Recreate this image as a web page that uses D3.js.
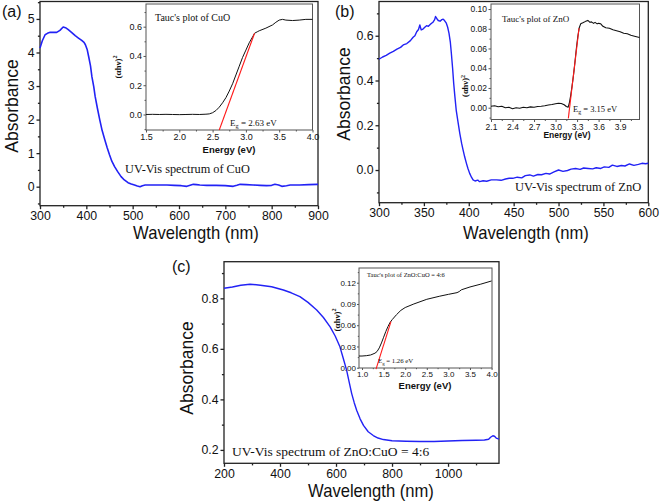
<!DOCTYPE html>
<html><head><meta charset="utf-8">
<script src="https://cdn.jsdelivr.net/npm/d3@7"></script>
<style>body{margin:0;background:#fff}svg{display:block}</style>
</head><body>
<script>
// ---------------- DATA ----------------
// Panel (a) CuO UV-Vis
const cuoWavelength = [300,305,311,316,322,330,336,343,350,355,361,368,376,383,390,395,398,402,405,409,412,416,419,424,429,434,440,445,450,455,461,468,475,482,490,497,504,510,516,521,527,540,555,574,590,605,617,624,631,638,645,660,680,700,717,725,732,745,760,775,789,800,807,815,822,832,840,860,880,898,900];
const cuoAbsorbance = [4.13,4.35,4.53,4.57,4.6,4.6,4.6,4.66,4.76,4.74,4.68,4.6,4.5,4.43,4.36,4.3,4.23,4.08,3.88,3.6,3.28,2.98,2.69,2.33,1.99,1.68,1.39,1.16,0.95,0.76,0.6,0.44,0.3,0.2,0.12,0.08,0.05,0.02,0.0,0.03,0.05,0.05,0.05,0.05,0.04,0.03,0.01,0.04,0.07,0.06,0.05,0.04,0.04,0.03,0.01,0.04,0.07,0.06,0.05,0.04,0.03,0.04,0.07,0.05,0.01,0.03,0.05,0.05,0.06,0.07,0.07];
// Inset (a) Tauc plot CuO
const cuoTaucEnergy = [1.5,1.6,1.7,1.8,1.9,2.0,2.1,2.2,2.3,2.4,2.45,2.5,2.55,2.6,2.65,2.7,2.75,2.8,2.85,2.9,2.95,3.0,3.05,3.1,3.13,3.17,3.2,3.3,3.4,3.45,3.5,3.55,3.6,3.7,3.8,3.9,4.0];
const cuoTaucValue  = [0.0,0.001,0.0,0.001,0.0,-0.001,0.0,0.001,0.0,0.002,0.004,0.012,0.027,0.05,0.08,0.115,0.16,0.21,0.27,0.33,0.39,0.44,0.49,0.53,0.555,0.565,0.572,0.59,0.612,0.63,0.645,0.65,0.645,0.642,0.645,0.65,0.65];
const cuoFitEnergy = [2.60,3.13];
const cuoFitValue  = [-0.106,0.555];

// Panel (b) ZnO UV-Vis
const znoWavelength = [300,304,308,312,316,320,324,327,331,335,338,340,342,344,345.5,347,349,351,353,355,357,358.5,360,362,363,364.5,366,368,370,371.5,373,375,376.5,378,379.5,380.6,382,383.2,384.5,386,388,390,392,393.7,395.5,397.4,399,401,403,404.8,407,410,412,416,420,425,431,436,441,445,449,454,459,463,468,472,477,481,486,490,495,500,505,510,514,519,524,528,533,538,542,547,551,556,560,565,570,574,579,584,589,593,597,600];
const znoAbsorbance = [0.495,0.505,0.512,0.522,0.53,0.54,0.548,0.559,0.565,0.578,0.593,0.6,0.618,0.628,0.648,0.626,0.63,0.638,0.645,0.642,0.65,0.656,0.66,0.672,0.686,0.676,0.668,0.665,0.672,0.674,0.668,0.656,0.638,0.611,0.57,0.522,0.455,0.388,0.33,0.268,0.215,0.164,0.12,0.089,0.058,0.03,0.008,-0.015,-0.032,-0.044,-0.049,-0.045,-0.052,-0.048,-0.05,-0.044,-0.044,-0.046,-0.04,-0.037,-0.037,-0.032,-0.035,-0.025,-0.022,-0.027,-0.02,-0.021,-0.015,-0.018,-0.008,0.0,-0.006,-0.002,0.004,0.007,0.003,0.009,0.007,0.005,0.01,0.007,0.014,0.012,0.022,0.016,0.02,0.018,0.027,0.021,0.025,0.03,0.028,0.03];
// Inset (b) Tauc plot ZnO
const znoTaucEnergy = [2.1,2.15,2.2,2.25,2.3,2.35,2.4,2.45,2.5,2.55,2.6,2.65,2.7,2.75,2.8,2.85,2.9,2.95,3.0,3.04,3.08,3.12,3.15,3.175,3.19,3.21,3.23,3.25,3.27,3.29,3.31,3.33,3.35,3.38,3.42,3.45,3.48,3.5,3.53,3.55,3.58,3.6,3.63,3.66,3.7,3.75,3.8,3.85,3.9,3.95,4.0,4.05,4.1,4.17];
const znoTaucValue  = [0.0015,0.002,0.001,0.0015,0.0,0.0005,-0.001,0.0,-0.0005,0.0005,0.0,0.0008,0.0005,0.0012,0.0015,0.002,0.0028,0.0032,0.004,0.0045,0.0043,0.003,0.0012,0.0005,0.004,0.012,0.022,0.033,0.046,0.06,0.072,0.081,0.085,0.086,0.0875,0.0885,0.0865,0.087,0.0855,0.0865,0.085,0.0855,0.085,0.0825,0.081,0.0805,0.079,0.078,0.077,0.0755,0.075,0.0735,0.0725,0.0712];
const znoFitEnergy = [3.178,3.327];
const znoFitValue  = [-0.0108,0.0806];

// Panel (c) ZnO:CuO = 4:6 UV-Vis
const mixWavelength = [200,230,260,293,330,370,412,440,471,500,531,555,579,597,614,626,638,647,656,665,674,686,698,715,733,750,769,800,850,900,950,1000,1050,1100,1130,1145,1152,1160,1166,1172,1182];
const mixAbsorbance = [0.84,0.845,0.852,0.856,0.852,0.846,0.833,0.822,0.807,0.784,0.754,0.724,0.687,0.651,0.608,0.562,0.515,0.468,0.423,0.387,0.356,0.323,0.297,0.272,0.257,0.247,0.241,0.236,0.234,0.233,0.233,0.235,0.237,0.238,0.239,0.242,0.25,0.256,0.254,0.247,0.243];
// Inset (c) Tauc plot ZnO:CuO
const mixTaucEnergy = [0.93,1.0,1.1,1.2,1.3,1.35,1.4,1.45,1.5,1.55,1.6,1.65,1.7,1.8,1.9,2.0,2.2,2.5,2.8,3.0,3.2,3.25,3.3,3.5,3.75,4.0];
const mixTaucValue  = [0.0165,0.0165,0.017,0.018,0.0205,0.023,0.028,0.035,0.043,0.051,0.058,0.064,0.068,0.075,0.081,0.085,0.09,0.0966,0.101,0.1036,0.106,0.1075,0.11,0.114,0.118,0.1225];
const mixFitEnergy = [1.324,1.67];
const mixFitValue  = [-0.002,0.065];

// Tick labels
const aXTicks = [300,400,500,600,700,800,900];
const aYTicks = [0,1,2,3,4,5];
const bXTicks = [300,350,400,450,500,550,600];
const bYTicks = [0.0,0.2,0.4,0.6];
const cXTicks = [200,400,600,800,1000];
const cYTicks = [0.2,0.4,0.6,0.8];
const aInXTicks = [1.5,2.0,2.5,3.0,3.5,4.0];
const aInYTicks = [0.0,0.2,0.4,0.6];
const bInXTicks = [2.1,2.4,2.7,3.0,3.3,3.6,3.9];
const bInYTicks = [0.00,0.02,0.04,0.06,0.08,0.10];
const cInXTicks = [1.0,1.5,2.0,2.5,3.0,3.5,4.0];
const cInYTicks = [0.00,0.03,0.06,0.09,0.12];

// ---------------- DRAW ----------------
const svg = d3.select("body").append("svg").attr("width",661).attr("height",503);
const SANS = "'Liberation Sans', Arial, sans-serif";
const SERIF = "'Liberation Serif', 'Times New Roman', serif";
const BLUE = "#2222f5", RED = "#ff1a1a";

function mids(t){ const m=[]; for(let i=0;i<t.length-1;i++) m.push((t[i]+t[i+1])/2); return m; }

function axes(o){
  const x = d3.scaleLinear().domain(o.xDomain).range([o.left,o.right]);
  const y = d3.scaleLinear().domain(o.yDomain).range([o.bottom,o.top]);
  const g = svg.append("g");
  const xt = o.xTicks, yt = o.yTicks;
  const inX = v=>v>=Math.min(...o.xDomain)&&v<=Math.max(...o.xDomain);
  const inY = v=>v>=Math.min(...o.yDomain)&&v<=Math.max(...o.yDomain);
  const xm = mids(xt).concat([xt[0]-(xt[1]-xt[0])/2, xt[xt.length-1]+(xt[1]-xt[0])/2]).filter(inX);
  const ym = mids(yt).concat([yt[0]-(yt[1]-yt[0])/2, yt[yt.length-1]+(yt[1]-yt[0])/2]).filter(inY);
  const clean = s => { s.select(".domain").remove(); s.selectAll("line").attr("stroke",o.color).attr("stroke-width",o.sw); };
  g.append("g").attr("transform",`translate(0,${o.bottom})`).call(d3.axisBottom(x).tickValues(xm).tickSize(o.tick*0.6).tickFormat("")).call(clean);
  g.append("g").attr("transform",`translate(${o.left},0)`).call(d3.axisLeft(y).tickValues(ym).tickSize(o.tick*0.6).tickFormat("")).call(clean);
  const gx = g.append("g").attr("transform",`translate(0,${o.bottom})`).call(d3.axisBottom(x).tickValues(xt).tickSize(o.tick).tickPadding(o.pad).tickFormat(o.xFmt)).call(clean);
  const gy = g.append("g").attr("transform",`translate(${o.left},0)`).call(d3.axisLeft(y).tickValues(yt).tickSize(o.tick).tickPadding(o.pad).tickFormat(o.yFmt)).call(clean);
  [gx,gy].forEach(a=>a.selectAll("text").attr("font-family",SANS).attr("font-size",o.fs).attr("font-weight",o.fw||"normal").attr("fill","#111"));
  g.append("rect").attr("x",o.left).attr("y",o.top).attr("width",o.right-o.left).attr("height",o.bottom-o.top)
    .attr("fill","none").attr("stroke",o.color).attr("stroke-width",o.sw);
  return {x,y,g};
}

function curve(ax, xs, ys, color, w){
  const pts = xs.map((v,i)=>[v,ys[i]]);
  ax.g.append("path").datum(pts).attr("fill","none").attr("stroke",color).attr("stroke-width",w)
    .attr("stroke-linejoin","round")
    .attr("d", d3.line().x(d=>ax.x(d[0])).y(d=>ax.y(d[1])));
}

function text(x,y,str,opt){
  const t = svg.append("text").text(str)
    .attr("font-family",opt.ff||SANS).attr("font-size",opt.fs).attr("fill","#111")
    .attr("text-anchor",opt.anchor||"start").attr("font-weight",opt.fw||"normal");
  let tr = `translate(${x},${y})`;
  if(opt.rot) tr += ` rotate(${opt.rot})`;
  if(opt.sx) tr += ` scale(${opt.sx},1)`;
  t.attr("transform",tr);
  return t;
}
function egLabel(x,y,val,fs){
  const t = svg.append("text").attr("x",x).attr("y",y).attr("font-family",SERIF).attr("font-size",fs).attr("fill","#111");
  t.append("tspan").text("E");
  t.append("tspan").attr("dy",fs*0.25).attr("font-size",fs*0.7).text("g");
  t.append("tspan").attr("dy",-fs*0.25).text(" = "+val+" eV");
}
function tauclabel(x,y,fs){
  const t = svg.append("text").attr("x",x).attr("y",y).attr("font-family",SERIF).attr("font-size",fs)
    .attr("font-weight","bold").attr("fill","#111").attr("text-anchor","middle")
    .attr("transform",`rotate(-90,${x},${y})`);
  t.append("tspan").text("(αhν)");
  t.append("tspan").attr("dy",-fs*0.4).attr("font-size",fs*0.7).text("2");
}

const main = {color:"#222", sw:1.3, tick:3.5, pad:2, fs:12.3};
const inset = {color:"#555", sw:1, tick:2.5, pad:1.5, fs:8.5};

// ---- Panel (a)
const A = axes(Object.assign({}, main, {left:40,right:318,top:1.5,bottom:205.7,xDomain:[300,900],yDomain:[-0.567,5.52],
  xTicks:aXTicks,yTicks:aYTicks,xFmt:d3.format("d"),yFmt:d3.format("d")}));
curve(A, cuoWavelength, cuoAbsorbance, BLUE, 1.6);
text(2,17,"(a)",{fs:16});
text(18,106,"Absorbance",{fs:17.5,anchor:"middle",rot:-90});
text(196,238.5,"Wavelength (nm)",{fs:17.5,anchor:"middle",sx:0.95});
text(125,173,"UV-Vis spectrum of CuO",{ff:SERIF,fs:12.3});
const AI = axes(Object.assign({}, inset, {left:146,right:312.5,top:4,bottom:130,xDomain:[1.5,4.0],yDomain:[-0.106,0.755],
  xTicks:aInXTicks,yTicks:aInYTicks,xFmt:d3.format(".1f"),yFmt:d3.format(".1f"),fs:9}));
curve(AI, cuoTaucEnergy, cuoTaucValue, "#111", 1);
curve(AI, cuoFitEnergy, cuoFitValue, RED, 1.1);
text(155,21,"Tauc's plot of CuO",{ff:SERIF,fs:10});
egLabel(230,126,"2.63",9);
text(229,153,"Energy (eV)",{fs:9.5,fw:"bold",anchor:"middle"});
tauclabel(121,67,9);

// ---- Panel (b)
const B = axes(Object.assign({}, main, {left:379,right:648.3,top:1.5,bottom:202.7,xDomain:[300,600],yDomain:[-0.146,0.753],
  xTicks:bXTicks,yTicks:bYTicks,xFmt:d3.format("d"),yFmt:d3.format(".1f")}));
curve(B, znoWavelength, znoAbsorbance, BLUE, 1.4);
text(335,17,"(b)",{fs:16});
text(350,94,"Absorbance",{fs:17.5,anchor:"middle",rot:-90});
text(526,238.5,"Wavelength (nm)",{fs:17.5,anchor:"middle",sx:0.95});
text(515,191,"UV-Vis spectrum of ZnO",{ff:SERIF,fs:12.5});
const BI = axes(Object.assign({}, inset, {left:491,right:639.5,top:4,bottom:119.5,xDomain:[2.1,4.17],yDomain:[-0.01196,0.1051],
  xTicks:bInXTicks,yTicks:bInYTicks,xFmt:d3.format(".1f"),yFmt:d3.format(".2f")}));
curve(BI, znoTaucEnergy, znoTaucValue, "#111", 1.1);
curve(BI, znoFitEnergy, znoFitValue, RED, 1.1);
text(502,22,"Tauc's plot of ZnO",{ff:SERIF,fs:9});
egLabel(573,112,"3.15",8.5);
text(567,138,"Energy (eV)",{fs:8.5,fw:"bold",anchor:"middle"});
tauclabel(468,86,8.5);

// ---- Panel (c)
const C = axes(Object.assign({}, main, {left:224,right:499,top:261.7,bottom:463.3,xDomain:[200,1182],yDomain:[0.147,0.945],
  xTicks:cXTicks,yTicks:cYTicks,xFmt:d3.format("d"),yFmt:d3.format(".1f")}));
curve(C, mixWavelength, mixAbsorbance, BLUE, 1.4);
text(172,272,"(c)",{fs:16});
text(193,368,"Absorbance",{fs:17.5,anchor:"middle",rot:-90});
text(371,497,"Wavelength (nm)",{fs:17.5,anchor:"middle",sx:0.95});
text(232,456,"UV-Vis spectrum of ZnO:CuO = 4:6",{ff:SERIF,fs:13.5});
const CI = axes(Object.assign({}, inset, {left:359,right:492,top:268,bottom:368,xDomain:[0.93,4.01],yDomain:[-0.0004,0.1408],
  xTicks:cInXTicks,yTicks:cInYTicks,xFmt:d3.format(".1f"),yFmt:d3.format(".2f"),tick:2,pad:1,fs:8}));
curve(CI, mixTaucEnergy, mixTaucValue, "#111", 1);
curve(CI, mixFitEnergy, mixFitValue, RED, 1.1);
text(367,277,"Tauc's plot of ZnO:CuO = 4:6",{ff:SERIF,fs:6.5});
egLabel(378,363,"1.26",6.8);
text(425,389,"Energy (eV)",{fs:9.5,fw:"bold",anchor:"middle"});
tauclabel(340,320,9);
</script>
</body></html>
